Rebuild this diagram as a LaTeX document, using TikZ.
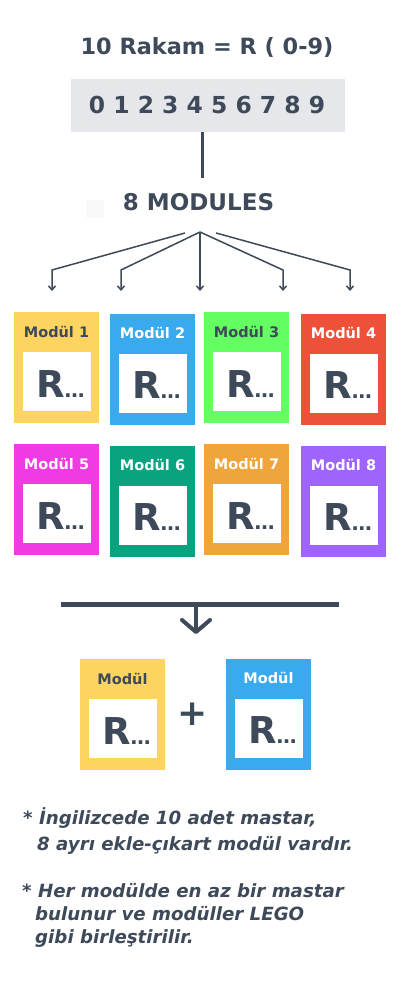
\documentclass[tikz,border=0pt]{standalone}
\usepackage{fontspec}
\setmainfont{DejaVu Sans}
\usetikzlibrary{arrows.meta,calc}
\definecolor{ink}{HTML}{3E4A5A}
\definecolor{graybox}{HTML}{E5E7EB}
\definecolor{faint}{HTML}{F8F9FA}
\definecolor{cyel}{HTML}{FDD462}
\definecolor{cblue}{HTML}{3AAAEE}
\definecolor{cgreen}{HTML}{64FD62}
\definecolor{cred}{HTML}{EE513A}
\definecolor{cmag}{HTML}{EF3BE1}
\definecolor{cteal}{HTML}{0AA37F}
\definecolor{corange}{HTML}{EFA53B}
\definecolor{cpurple}{HTML}{A064FE}
\newcommand{\fsz}[1]{\fontsize{#1}{#1}\selectfont}
\newcommand{\mkmod}[6]{%
  \node[modbox, fill=#4] (#1) at (#2,#3) {};
  \node[modtitle, text=#5] (#1t) at ([yshift=-25pt]#1.north) {#6};
  \node[inbox] (#1i) at ([yshift=-40pt]#1.north) {};
  \node[rtext] (#1r) at ([xshift=4pt,yshift=14pt]#1i.south) {\fsz{37}R\fsz{20}…};
}
\begin{document}
\begin{tikzpicture}[x=1pt,y=-1pt,
  modbox/.style={minimum width=85pt, minimum height=111pt, inner sep=0pt, outer sep=0pt, anchor=north west},
  inbox/.style={fill=white, minimum width=68pt, minimum height=59pt, inner sep=0pt, outer sep=0pt, anchor=north},
  modtitle/.style={font=\fsz{14.5}\bfseries, anchor=base, inner sep=0pt},
  rtext/.style={font=\bfseries, anchor=base, inner sep=0pt, text=ink},
  fan/.style={draw=ink, line width=1.5pt, -{Straight Barb[length=4pt,width=7pt]}},
  note/.style={font=\fsz{18.2}\bfseries\itshape, text=ink, anchor=base west, inner sep=0pt},
  head/.style={text=ink, anchor=base, inner sep=0pt}
]
\useasboundingbox (0,0) rectangle (400,987);
\fill[white] (0,0) rectangle (400,987);

\node[head, font=\fsz{22.4}\bfseries] (title) at (207,55) {10 Rakam = R ( 0-9)};
\node[fill=graybox, minimum width=274pt, minimum height=53pt, inner sep=0pt, outer sep=0pt, anchor=north west] (digits) at (71,79) {};
\node[head, font=\fsz{23.4}\bfseries] (digtext) at (207,114) {0 1 2 3 4 5 6 7 8 9};
\coordinate (vend) at (202,178);
\draw[ink, line width=3pt] (vend |- digits.south) -- (vend);

\node[fill=faint, minimum size=18pt, inner sep=0pt, anchor=north west] (ghost) at (86,200) {};
\node[head, font=\fsz{23}\bfseries] (mods) at (198.5,210) {8 MODULES};

\coordinate (hub) at (200,232);
\coordinate (hubL) at (185,233);
\coordinate (hubR) at (216,233);
\coordinate (e1) at (52,291);
\coordinate (e2) at (121,291);
\coordinate (e3) at (200,291);
\coordinate (e4) at (283,291);
\coordinate (e5) at (350,291);
\draw[fan] (hubL) -- ([yshift=21pt]e1) -- (e1);
\draw[fan] (hub) -- ([yshift=21pt]e2) -- (e2);
\draw[fan] (hub) -- (e3);
\draw[fan] (hub) -- ([yshift=21pt]e4) -- (e4);
\draw[fan] (hubR) -- ([yshift=21pt]e5) -- (e5);

\mkmod{m1}{14}{312}{cyel}{ink}{Modül 1}
\mkmod{m2}{110}{313.5}{cblue}{white}{Modül 2}
\mkmod{m3}{204}{312}{cgreen}{ink}{Modül 3}
\mkmod{m4}{301}{313.5}{cred}{white}{Modül 4}
\mkmod{m5}{14}{444}{cmag}{white}{Modül 5}
\mkmod{m6}{110}{445.5}{cteal}{white}{Modül 6}
\mkmod{m7}{204}{444}{corange}{white}{Modül 7}
\mkmod{m8}{301}{445.5}{cpurple}{white}{Modül 8}

\coordinate (barL) at (61,604);
\coordinate (barR) at (339,604);
\coordinate (barM) at (196,604);
\coordinate (btip) at (196,632);
\draw[ink, line width=5pt] (barL) -- (barR);
\draw[ink, line width=4pt] (barM) -- (btip);
\draw[ink, line width=4pt, line cap=round, line join=round] ([xshift=-14pt,yshift=12pt]btip) -- (btip) -- ([xshift=14pt,yshift=12pt]btip);

\mkmod{ma}{80}{659}{cyel}{ink}{Modül}
\mkmod{mb}{226}{658.5}{cblue}{white}{Modül}
\node[font=\fsz{36}\bfseries, text=ink, inner sep=0pt] (plus) at (193,714) {+};

\node[note] (n1) at (23,824) {* İngilizcede 10 adet mastar,};
\node[note] (n2) at (37,850) {8 ayrı ekle-çıkart modül vardır.};
\node[note] (n3) at (22,897) {* Her modülde en az bir mastar};
\node[note] (n4) at (35,920) {bulunur ve modüller LEGO};
\node[note] (n5) at (35,943) {gibi birleştirilir.};
\end{tikzpicture}
\end{document}
